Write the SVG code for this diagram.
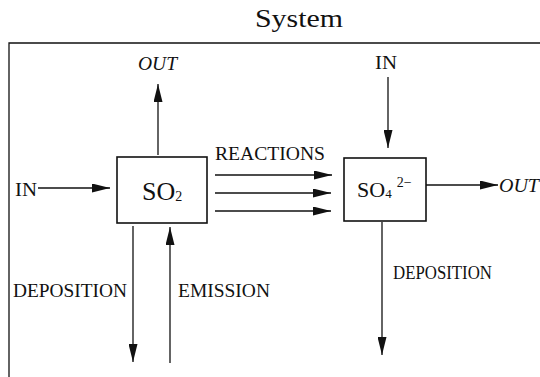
<svg xmlns="http://www.w3.org/2000/svg" width="540" height="377" viewBox="0 0 540 377">
<style>
  text { font-family: "Liberation Serif", "Times New Roman", serif; fill: #111; }
  .lbl { font-size: 18px; }
  .it { font-style: italic; }
  .box { fill: none; stroke: #111; stroke-width: 1.6; }
  .ln { fill: none; stroke: #111; stroke-width: 1.3; }
  .arr { fill: none; stroke: #111; stroke-width: 1.3; marker-end: url(#ah); }
</style>
<defs>
  <marker id="ah" markerUnits="userSpaceOnUse" markerWidth="19" markerHeight="9" refX="18" refY="4.5" orient="auto">
    <path d="M0,0 L18,4.5 L0,9 z" fill="#111"/>
  </marker>
</defs>
<rect width="540" height="377" fill="#fff"/>
<g id="frame">
  <text x="255" y="27" font-size="26" textLength="88" lengthAdjust="spacingAndGlyphs">System</text>
  <path class="ln" d="M9,377 V43 H540" stroke-width="1.5"/>
</g>
<g id="so2">
  <rect class="box" x="117" y="157" width="90" height="66"/>
  <text x="142" y="200" font-size="26">SO<tspan font-size="14" dy="1">2</tspan></text>
</g>
<g id="so4">
  <rect class="box" x="344" y="158" width="82" height="63"/>
  <text x="357" y="197" font-size="22">SO<tspan font-size="13" dy="1">4</tspan><tspan font-size="14" dx="5" dy="-11">2−</tspan></text>
</g>
<g id="labels">
  <text class="lbl it" x="138" y="70" textLength="39" lengthAdjust="spacingAndGlyphs">OUT</text>
  <text class="lbl" x="375" y="69" textLength="22" lengthAdjust="spacingAndGlyphs">IN</text>
  <text class="lbl" x="15" y="196" textLength="22" lengthAdjust="spacingAndGlyphs">IN</text>
  <text class="lbl" x="215" y="160" textLength="110" lengthAdjust="spacingAndGlyphs">REACTIONS</text>
  <text class="lbl it" x="499" y="192" textLength="40" lengthAdjust="spacingAndGlyphs">OUT</text>
  <text class="lbl" x="13" y="297" textLength="114" lengthAdjust="spacingAndGlyphs">DEPOSITION</text>
  <text class="lbl" x="178" y="297" textLength="92" lengthAdjust="spacingAndGlyphs">EMISSION</text>
  <text class="lbl" x="393" y="279" textLength="99" lengthAdjust="spacingAndGlyphs" font-size="17">DEPOSITION</text>
</g>
<g id="connectors">
  <path class="arr" d="M158,155 V84"/>
  <path class="arr" d="M388,77 V148"/>
  <path class="arr" d="M38,188 H110"/>
  <path class="arr" d="M215,175 H332"/>
  <path class="arr" d="M215,193 H331"/>
  <path class="arr" d="M215,211 H331"/>
  <path class="arr" d="M426,185 H498"/>
  <path class="arr" d="M133,226 V362"/>
  <path class="arr" d="M170,363 V227"/>
  <path class="arr" d="M382,222 V355"/>
</g>
</svg>
